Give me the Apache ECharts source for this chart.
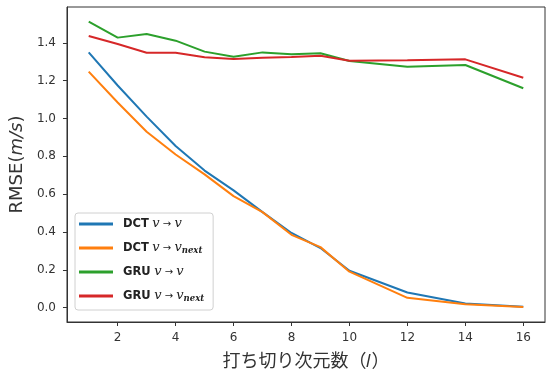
<!DOCTYPE html>
<html>
<head>
<meta charset="utf-8">
<script src="https://cdn.jsdelivr.net/npm/echarts@6/dist/echarts.min.js"></script>
<style>
  html, body { margin: 0; padding: 0; background: #fff; }
  #chart { width: 548px; height: 374px; }
</style>
</head>
<body>
<div id="chart"></div>
<script>
// Truncation dimension l on the x axis
const dims = [1, 2, 3, 4, 5, 6, 7, 8, 9, 10, 12, 14, 16];

// RMSE (m/s) per method
const dctToV    = [1.350, 1.175, 1.010, 0.855, 0.725, 0.620, 0.505, 0.395, 0.315, 0.195, 0.080, 0.022, 0.005];
const dctToNext = [1.248, 1.085, 0.930, 0.810, 0.705, 0.590, 0.505, 0.385, 0.320, 0.190, 0.052, 0.018, 0.003];
const gruToV    = [1.513, 1.428, 1.447, 1.412, 1.354, 1.327, 1.350, 1.340, 1.345, 1.304, 1.274, 1.283, 1.160];
const gruToNext = [1.437, 1.394, 1.348, 1.348, 1.324, 1.315, 1.322, 1.325, 1.332, 1.306, 1.308, 1.313, 1.216];

// Legend parts: model name and prediction target
const models  = ['DCT', 'DCT', 'GRU', 'GRU'];
const targets = ['v', 'v_next', 'v', 'v_next'];
const seriesNames = models.map((m, i) => m + ' v → ' + targets[i]);
const seriesValues = [dctToV, dctToNext, gruToV, gruToNext];
const colors = ['#1f77b4', '#ff7f0e', '#2ca02c', '#d62728'];

// Tick labels
const xTicks = [2, 4, 6, 8, 10, 12, 14, 16];
const yTicks = [0.0, 0.2, 0.4, 0.6, 0.8, 1.0, 1.2, 1.4];

const chart = echarts.init(document.getElementById('chart'), null, { renderer: 'canvas' });

const tickFont = { fontFamily: 'DejaVu Sans', fontSize: 12, color: '#333' };

function legendLabel(name) {
  const i = seriesNames.indexOf(name);
  const sub = targets[i] === 'v_next';
  return '{b|' + models[i] + '} {v|v}{a| → }{v|v}' + (sub ? '{s|next}' : '');
}

chart.setOption({
  animation: false,
  backgroundColor: '#fff',
  color: colors,
  grid: {
    left: 65, right: 3, top: 7, bottom: 52,
    show: true, borderColor: '#333', borderWidth: 1, backgroundColor: '#fff'
  },
  xAxis: {
    type: 'value',
    min: 0.25, max: 16.75,
    name: '打ち切り次元数（𝑙）',
    nameLocation: 'middle',
    nameGap: 29,
    nameTextStyle: { fontFamily: 'Noto Sans CJK JP', fontSize: 18, color: '#333' },
    axisLine: { show: true, onZero: false, lineStyle: { color: '#333', width: 1 } },
    axisTick: { show: true, length: 4, customValues: xTicks, lineStyle: { color: '#333' } },
    axisLabel: Object.assign({ margin: 10, customValues: xTicks, formatter: v => String(v) }, tickFont),
    splitLine: { show: false }
  },
  yAxis: {
    type: 'value',
    min: -0.076, max: 1.59,
    name: 'RMSE({i|m/s})',
    nameLocation: 'middle',
    nameGap: 33,
    nameRotate: 90,
    nameTextStyle: {
      fontFamily: 'DejaVu Sans', fontSize: 18, color: '#333',
      rich: { i: { fontFamily: 'DejaVu Sans', fontStyle: 'italic', fontSize: 18, color: '#333' } }
    },
    axisLine: { show: true, onZero: false, lineStyle: { color: '#333', width: 1 } },
    axisTick: { show: true, length: 4, customValues: yTicks, lineStyle: { color: '#333' } },
    axisLabel: Object.assign({ margin: 11, customValues: yTicks, formatter: v => v.toFixed(1) }, tickFont),
    splitLine: { show: false }
  },
  legend: {
    orient: 'vertical',
    left: 75, top: 213,
    data: seriesNames,
    icon: 'rect',
    itemWidth: 34, itemHeight: 3,
    itemGap: 10,
    padding: [4, 9, 7, 4],
    backgroundColor: '#fff',
    borderColor: '#d0d0d0', borderWidth: 1, borderRadius: 3,
    formatter: legendLabel,
    textStyle: {
      fontFamily: 'DejaVu Sans', fontSize: 11, color: '#222', lineHeight: 14, padding: [0, 0, 0, 5],
      rich: {
        b: { fontFamily: 'DejaVu Sans', fontWeight: 'bold', fontSize: 11.5, color: '#222', lineHeight: 14 },
        v: { fontFamily: 'DejaVu Serif', fontStyle: 'italic', fontSize: 13, color: '#222', lineHeight: 14 },
        a: { fontFamily: 'DejaVu Sans', fontSize: 10, color: '#222', lineHeight: 14 },
        s: { fontFamily: 'DejaVu Serif', fontStyle: 'italic', fontWeight: 'bold', fontSize: 8.5, color: '#222',
             lineHeight: 14, verticalAlign: 'bottom', padding: [5, 0, 0, 0] }
      }
    }
  },
  series: seriesNames.map((name, i) => ({
    name: name,
    type: 'line',
    data: dims.map((d, j) => [d, seriesValues[i][j]]),
    showSymbol: false,
    symbol: 'none',
    lineStyle: { width: 2, color: colors[i] },
    itemStyle: { color: colors[i] },
    z: 2 + i
  }))
});
</script>
</body>
</html>
